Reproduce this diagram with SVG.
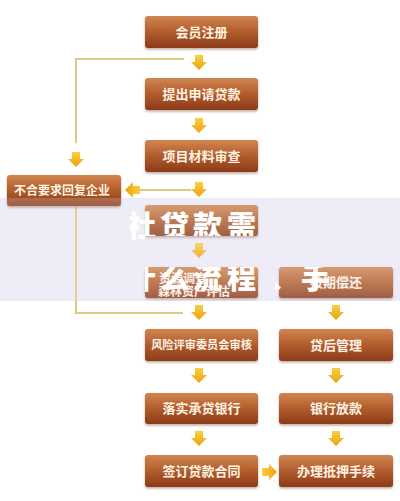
<svg xmlns="http://www.w3.org/2000/svg" width="400" height="501" viewBox="0 0 400 501">
<defs>
<linearGradient id="boxg" x1="0" y1="0" x2="0" y2="1">
<stop offset="0" stop-color="#d08650"/>
<stop offset="0.45" stop-color="#b5602f"/>
<stop offset="1" stop-color="#8c3a19"/>
</linearGradient>
<linearGradient id="arrg" x1="0" y1="0" x2="0" y2="15" gradientUnits="userSpaceOnUse">
<stop offset="0" stop-color="#f9d040"/>
<stop offset="1" stop-color="#eea010"/>
</linearGradient>
<filter id="sh" x="-10%" y="-20%" width="120%" height="150%">
<feDropShadow dx="0" dy="1.5" stdDeviation="1.2" flood-color="#5a2a10" flood-opacity="0.4"/>
</filter>
<clipPath id="wmclip">
<rect x="145" y="205" width="113" height="31"/>
<rect x="145" y="267" width="113" height="31"/>
<rect x="275" y="267" width="118" height="31"/>
<rect x="130" y="210" width="15" height="30"/>
</clipPath>
<path id="arr" d="M-4,0 H4 V7 H8 L0,15 L-8,7 H-4 Z" fill="url(#arrg)"/>
</defs>
<style>
.box{fill:url(#boxg);filter:url(#sh);}
.lbl{font-family:"Noto Sans CJK SC","Noto Sans",sans-serif;font-size:13px;font-weight:bold;fill:#fff3e4;text-anchor:middle;}
.sm{font-size:12px;}
.xs{font-size:11.2px;}
.lbl2{font-family:"Noto Sans CJK SC","Noto Sans",sans-serif;font-size:12px;font-weight:bold;fill:#fff3e4;}
.ln{fill:none;stroke:#dccb7c;stroke-width:2;}
.wm{font-family:"Noto Sans CJK SC","Noto Sans",sans-serif;font-size:29px;font-weight:900;fill:#ffffff;}
</style>
<rect width="400" height="501" fill="#ffffff"/>
<rect x="0" y="198" width="400" height="103" fill="#eeebf6"/>
<g id="connectors">
<polyline class="ln" points="184,59 76,59 76,143"/>
<line class="ln" x1="140" y1="190" x2="191" y2="190"/>
<polyline class="ln" points="76,207 76,313 183,313"/>
<use href="#arr" transform="translate(199,55)"/>
<use href="#arr" transform="translate(199,118)"/>
<use href="#arr" transform="translate(199,182)"/>
<use href="#arr" transform="translate(199,243)"/>
<use href="#arr" transform="translate(199,305)"/>
<use href="#arr" transform="translate(199,368)"/>
<use href="#arr" transform="translate(199,431)"/>
<use href="#arr" transform="translate(336,305)"/>
<use href="#arr" transform="translate(336,368)"/>
<use href="#arr" transform="translate(336,431)"/>
<use href="#arr" transform="translate(76,152)"/>
<use href="#arr" transform="translate(140,190) rotate(90)"/>
<use href="#arr" transform="translate(262,472) rotate(-90)"/>
</g>
<g id="n1"><rect class="box" x="145" y="16" width="113" height="32" rx="3"/><text class="lbl" x="201.5" y="36.5">会员注册</text></g>
<g id="n2"><rect class="box" x="145" y="78" width="113" height="32" rx="3"/><text class="lbl" x="201.5" y="98.5">提出申请贷款</text></g>
<g id="n3"><rect class="box" x="145" y="140" width="113" height="32" rx="3"/><text class="lbl" x="201.5" y="160.5">项目材料审查</text></g>
<g id="n4"><rect class="box" x="7" y="175" width="114" height="31" rx="3"/><text class="lbl sm" x="62" y="195">不合要求回复企业</text></g>
<g id="n5"><rect class="box" x="145" y="205" width="113" height="31" rx="3"/></g>
<g id="n6"><rect class="box" x="145" y="267" width="113" height="31" rx="3"/><text class="lbl2" x="159" y="283">资源调查</text><text class="lbl2" x="158" y="296">森林资产评估</text></g>
<g id="n7"><rect class="box" x="279" y="267" width="114" height="31" rx="3"/><text class="lbl" x="336" y="287">按期偿还</text></g>
<g id="n8"><rect class="box" x="145" y="329" width="113" height="32" rx="3"/><text class="lbl xs" x="201.5" y="349">风险评审委员会审核</text></g>
<g id="n9"><rect class="box" x="279" y="329" width="114" height="32" rx="3"/><text class="lbl" x="336" y="349.5">贷后管理</text></g>
<g id="n10"><rect class="box" x="145" y="393" width="113" height="31" rx="3"/><text class="lbl" x="201.5" y="413">落实承贷银行</text></g>
<g id="n11"><rect class="box" x="279" y="393" width="114" height="31" rx="3"/><text class="lbl" x="336" y="413">银行放款</text></g>
<g id="n12"><rect class="box" x="145" y="455" width="113" height="32" rx="3"/><text class="lbl" x="201.5" y="475.5">签订贷款合同</text></g>
<g id="n13"><rect class="box" x="279" y="455" width="114" height="32" rx="3"/><text class="lbl" x="336" y="475.5">办理抵押手续</text></g>
<rect x="0" y="198" width="400" height="103" fill="#f1eef8" opacity="0.2"/>
<g clip-path="url(#wmclip)">
<text class="wm" x="127 160 193 227" y="237">社贷款需</text>
<text class="wm" x="127 160 193 227 270 301" y="289">什么流程、手</text>
</g>
</svg>
